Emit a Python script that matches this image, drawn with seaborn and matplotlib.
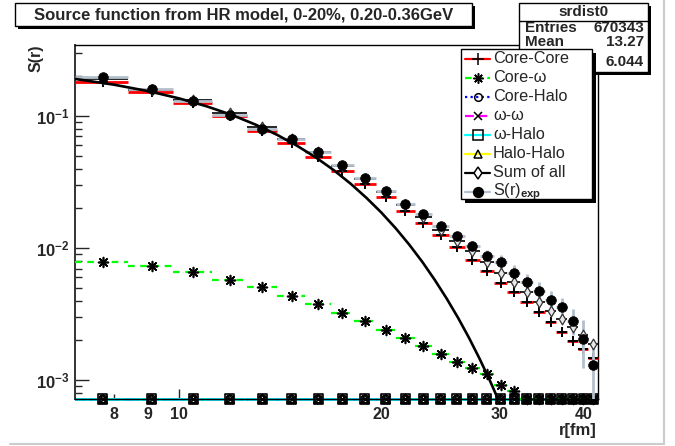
import numpy as np
import pandas as pd
import matplotlib
matplotlib.use("Agg")
import matplotlib.pyplot as plt
from matplotlib.patches import Rectangle
from matplotlib.lines import Line2D
from matplotlib.ticker import FixedLocator, NullFormatter, LogLocator
import seaborn as sns

# 25 bins of 1.4 fm between 7 and 42 fm
r_centers = [7.7, 9.1, 10.5, 11.9, 13.3, 14.7, 16.1, 17.5, 18.9, 20.3, 21.7, 23.1, 24.5,
             25.9, 27.3, 28.7, 30.1, 31.5, 32.9, 34.3, 35.7, 37.1, 38.5, 39.9, 41.3]
half_w = 0.7

s_exp = [0.1975, 0.1602, 0.1299, 0.1018, 0.0793, 0.0666, 0.0531, 0.0425, 0.0341, 0.0270,
         0.02144, 0.01819, 0.01468, 0.01233, 0.01041, 0.00873, 0.00779, 0.00650, 0.00556,
         0.00475, 0.00404, 0.00359, 0.00281, 0.00204, 0.00130]
s_exp_err = [0.004, 0.0035, 0.003, 0.0028, 0.0025, 0.0022, 0.002, 0.0018, 0.0016, 0.0014,
             0.0012, 0.0011, 0.001, 0.001, 0.001, 0.0009, 0.001, 0.00095, 0.00083, 0.00074,
             0.0007, 0.0006, 0.00063, 0.0008, 0.00065]
core_core = [0.1819, 0.1512, 0.1248, 0.1005, 0.0772, 0.0628, 0.0492, 0.0385, 0.0304, 0.0242,
             0.01918, 0.01538, 0.01254, 0.01012, 0.00811, 0.00667, 0.00546, 0.00462, 0.00392,
             0.00329, 0.00274, 0.00232, 0.00198, 0.00171, 0.00146]
core_omega = [0.00787, 0.00735, 0.00655, 0.00575, 0.00509, 0.00433, 0.00376, 0.00322, 0.00281,
              0.00239, 0.00209, 0.00182, 0.00157, 0.00137, 0.00123, 0.00111, 0.000916, 0.00083,
              0.00070, 0.00063, 0.00060, 0.00056, 0.00053, 0.00048, 0.00041]
core_halo = [0, 0, 0, 0, 0, 0, 0, 0, 0, 0, 0, 0, 0, 0, 0, 0, 0, 0, 0, 0, 0, 0, 0, 0, 0]
omega_omega = [0, 0, 0, 0, 0, 0, 0, 0, 0, 0, 0, 0, 0, 0, 0, 0, 0, 0, 0, 0, 0, 0, 0, 0, 0]
omega_halo = [0, 0, 0, 0, 0, 0, 0, 0, 0, 0, 0, 0, 0, 0, 0, 0, 0, 0, 0, 0, 0, 0, 0, 0, 0]
halo_halo = [0, 0, 0, 0, 0, 0, 0, 0, 0, 0, 0, 0, 0, 0, 0, 0, 0, 0, 0, 0, 0, 0, 0, 0, 0]
sum_all = [0.1897, 0.1586, 0.1314, 0.1063, 0.0823, 0.0671, 0.0530, 0.0417, 0.0332, 0.0266,
           0.02127, 0.01726, 0.01380, 0.01140, 0.00945, 0.00779, 0.00643, 0.00550, 0.00467,
           0.00392, 0.00335, 0.00288, 0.00251, 0.00219, 0.00187]

# fitted curve
fit_r = [7, 8, 9, 10, 11, 12, 13, 14, 15, 16, 17, 18, 19, 20, 21, 22, 23, 24, 25, 26, 27, 28, 29, 30]
fit_s = [0.1909, 0.1727, 0.1543, 0.1360, 0.1183, 0.1016, 0.0860, 0.0719, 0.0593, 0.0483,
         0.0388, 0.0307, 0.0240, 0.01855, 0.01413, 0.01062, 0.00788, 0.00576, 0.00416,
         0.00297, 0.00209, 0.00145, 0.000992, 0.000671]

stats_rows = [("Entries", "670343"), ("Mean", "13.27"), ("RMS", "6.044")]
title = "Source function from HR model, 0-20%, 0.20-0.36GeV"

x_lo, x_hi = 7.0, 42.0
y_lo, y_hi = 7.2e-4, 0.345

sns.set_style("white")
plt.rcParams["font.family"] = ["Liberation Sans", "DejaVu Sans"]
plt.rcParams["font.weight"] = "bold"
plt.rcParams["mathtext.fontset"] = "custom"
plt.rcParams["mathtext.rm"] = "Liberation Sans"
plt.rcParams["mathtext.bf"] = "Liberation Sans:bold"

W, H = 675, 446
fig = plt.figure(figsize=(W / 100, H / 100), dpi=100)


def fx(x):
    return x / W


def fy(y):
    return 1 - y / H


ax = fig.add_axes([fx(75), fy(399), (598 - 75) / W, (399 - 45) / H])
ax.set_xscale("log")
ax.set_yscale("log")
ax.set_xlim(x_lo, x_hi)
ax.set_ylim(y_lo, y_hi)

xc = np.array(r_centers)


def draw_hist(vals, color, ls, lw, marker, size, z, fill=None, mlw=1.2, edge="black"):
    y = np.clip(np.array(vals, dtype=float), y_lo, None)
    ax.hlines(y, xc - half_w, xc + half_w, colors=color, linestyles=ls, linewidth=lw,
              zorder=z, clip_on=False)
    if fill is None:
        sns.scatterplot(x=xc, y=y, marker=marker, s=size, color="black", linewidth=mlw,
                        ax=ax, zorder=z + 0.5, clip_on=False)
    else:
        sns.scatterplot(x=xc, y=y, marker=marker, s=size, facecolor=fill, edgecolor=edge,
                        linewidth=mlw, ax=ax, zorder=z + 0.5, clip_on=False)


# floor series (zero values sit on the axis minimum like ROOT does)
draw_hist(halo_halo, "#ffff00", "-", 2, "^", 40, 2.0, fill="none")
draw_hist(core_halo, "#0000ff", (0, (1, 1.5)), 2, "o", 30, 2.1, fill="none")
draw_hist(omega_omega, "#ff00ff", (0, (4, 2)), 2, "x", 30, 2.2)
draw_hist(omega_halo, "#00ffff", "-", 2, "s", 42, 2.3, fill="none")

draw_hist(core_omega, "#00ff00", (0, (3, 2.5)), 1.6, (8, 2, 0), 50, 2.6)
draw_hist(core_core, "#ff0000", "-", 2, "+", 62, 2.8, mlw=1.4)
draw_hist(sum_all, "black", "-", 1.2, "d", 30, 3.0, fill="#e8e8e8", mlw=0.9, edge="#333333")

ax.errorbar(xc, s_exp, yerr=s_exp_err, xerr=half_w, fmt="none", ecolor="#b4c0cc",
            elinewidth=2, capsize=0, zorder=3.3)
sns.lineplot(x=fit_r, y=fit_s, color="black", linewidth=1.9, ax=ax, zorder=3.6)
sns.scatterplot(x=xc, y=s_exp, marker="o", s=48, color="black", edgecolor="black",
                ax=ax, zorder=4)

# axes styling
for side in ["top", "right", "bottom"]:
    ax.spines[side].set_linewidth(1)
    ax.spines[side].set_color("black")
ax.spines["left"].set_linewidth(1.4)
ax.spines["left"].set_color("#333333")

ax.yaxis.set_major_locator(FixedLocator([1e-3, 1e-2, 1e-1]))
ax.set_yticklabels([r"$\mathbf{10^{-3}}$", r"$\mathbf{10^{-2}}$", r"$\mathbf{10^{-1}}$"])
ax.yaxis.set_minor_locator(LogLocator(base=10, subs=np.arange(2, 10)))
ax.yaxis.set_minor_formatter(NullFormatter())
ax.tick_params(axis="y", which="major", direction="in", length=10, width=1, pad=4,
               labelsize=12, left=True, right=False)
ax.tick_params(axis="y", which="minor", direction="in", length=5, width=1,
               left=True, right=False)

ax.set_xticks([10], labels=["10"])
ax.set_xticks([8, 9, 20, 30, 40], labels=["8", "9", "20", "30", "40"], minor=True)
ax.tick_params(axis="x", which="major", direction="in", length=7, width=1, pad=6,
               labelsize=11.5, bottom=True, top=False)
ax.tick_params(axis="x", which="minor", direction="in", length=3.6, width=1, pad=6,
               labelsize=11.5, bottom=True, top=False)
ax.set_xlabel("")
ax.set_ylabel("")

fig.text(fx(597), fy(430), "r[fm]", ha="right", va="center", fontsize=12)
fig.text(fx(36), fy(45), "S(r)", ha="center", va="top", rotation=90, fontsize=11.5)


def box(x0, y0, x1, y1, shadow, z):
    fig.add_artist(Rectangle((fx(x0 + shadow), fy(y1 + shadow)), (x1 - x0) / W,
                             (y1 - y0) / H, transform=fig.transFigure, facecolor="black",
                             edgecolor="none", zorder=z))
    fig.add_artist(Rectangle((fx(x0), fy(y1)), (x1 - x0) / W, (y1 - y0) / H,
                             transform=fig.transFigure, facecolor="white",
                             edgecolor="black", linewidth=1, zorder=z + 0.1))


# title box
box(15, 3, 472, 26, 3, 10)
fig.text(fx(243.5), fy(15), title, ha="center", va="center", fontsize=12, zorder=11)

# stats box (its RMS label sits behind the legend, as in ROOT)
box(519, 3, 648, 72, 3, 10)
fig.add_artist(Line2D([fx(519), fx(648)], [fy(21), fy(21)], transform=fig.transFigure,
                      color="black", linewidth=1, zorder=11))
fig.text(fx(583.5), fy(12), "srdist0", ha="center", va="center", fontsize=11, zorder=11)
stat_y = [28.5, 42.5, 62.5]
for i, (k, v) in enumerate(stats_rows):
    fig.text(fx(644), fy(stat_y[i]), v, ha="right", va="center", fontsize=11, zorder=11)
    if i < 2:
        fig.text(fx(525), fy(stat_y[i]), k, ha="left", va="center", fontsize=11, zorder=11)

# legend
box(461, 49, 592, 199, 4, 20)
legend_rows = [
    ("Core-Core", "#ff0000", "-", "+", 8.6, "black", "black"),
    ("Core-\u03c9", "#00ff00", (0, (3, 2)), (8, 2, 0), 7.4, "black", "black"),
    ("Core-Halo", "#0000ff", (0, (1, 1.5)), "o", 5.5, "none", "black"),
    ("\u03c9-\u03c9", "#ff00ff", (0, (4, 2)), "x", 5.5, "black", "black"),
    ("\u03c9-Halo", "#00ffff", "-", "s", 6.5, "none", "black"),
    ("Halo-Halo", "#ffff00", "-", "^", 6.3, "none", "black"),
    ("Sum of all", "black", "-", "d", 6.5, "white", "black"),
    (r"S(r)$_{\mathrm{exp}}$", "#b4c0cc", "-", "o", 7.0, "black", "black"),
]
for i, (lab, col, ls, mk, ms, mfc, mec) in enumerate(legend_rows):
    yc = 58.5 + i * 19
    fig.add_artist(Line2D([fx(465), fx(490)], [fy(yc), fy(yc)], transform=fig.transFigure,
                          color=col, linestyle=ls, linewidth=1.6, zorder=21))
    fig.add_artist(Line2D([fx(477.5)], [fy(yc)], transform=fig.transFigure, linestyle="none",
                          marker=mk, markersize=ms, markerfacecolor=mfc,
                          markeredgecolor=mec, markeredgewidth=1.1, zorder=22))
    fig.text(fx(493), fy(yc), lab, ha="left", va="center", fontsize=11.7,
             fontweight="normal", zorder=22)

# pad border
fig.add_artist(Line2D([fx(664), fx(664)], [fy(0), fy(444)], transform=fig.transFigure,
                      color="#cccccc", linewidth=1.5))
fig.add_artist(Line2D([fx(10), fx(664)], [fy(444), fy(444)], transform=fig.transFigure,
                      color="#cccccc", linewidth=1.5))

fig.savefig("out.png", dpi=100)
